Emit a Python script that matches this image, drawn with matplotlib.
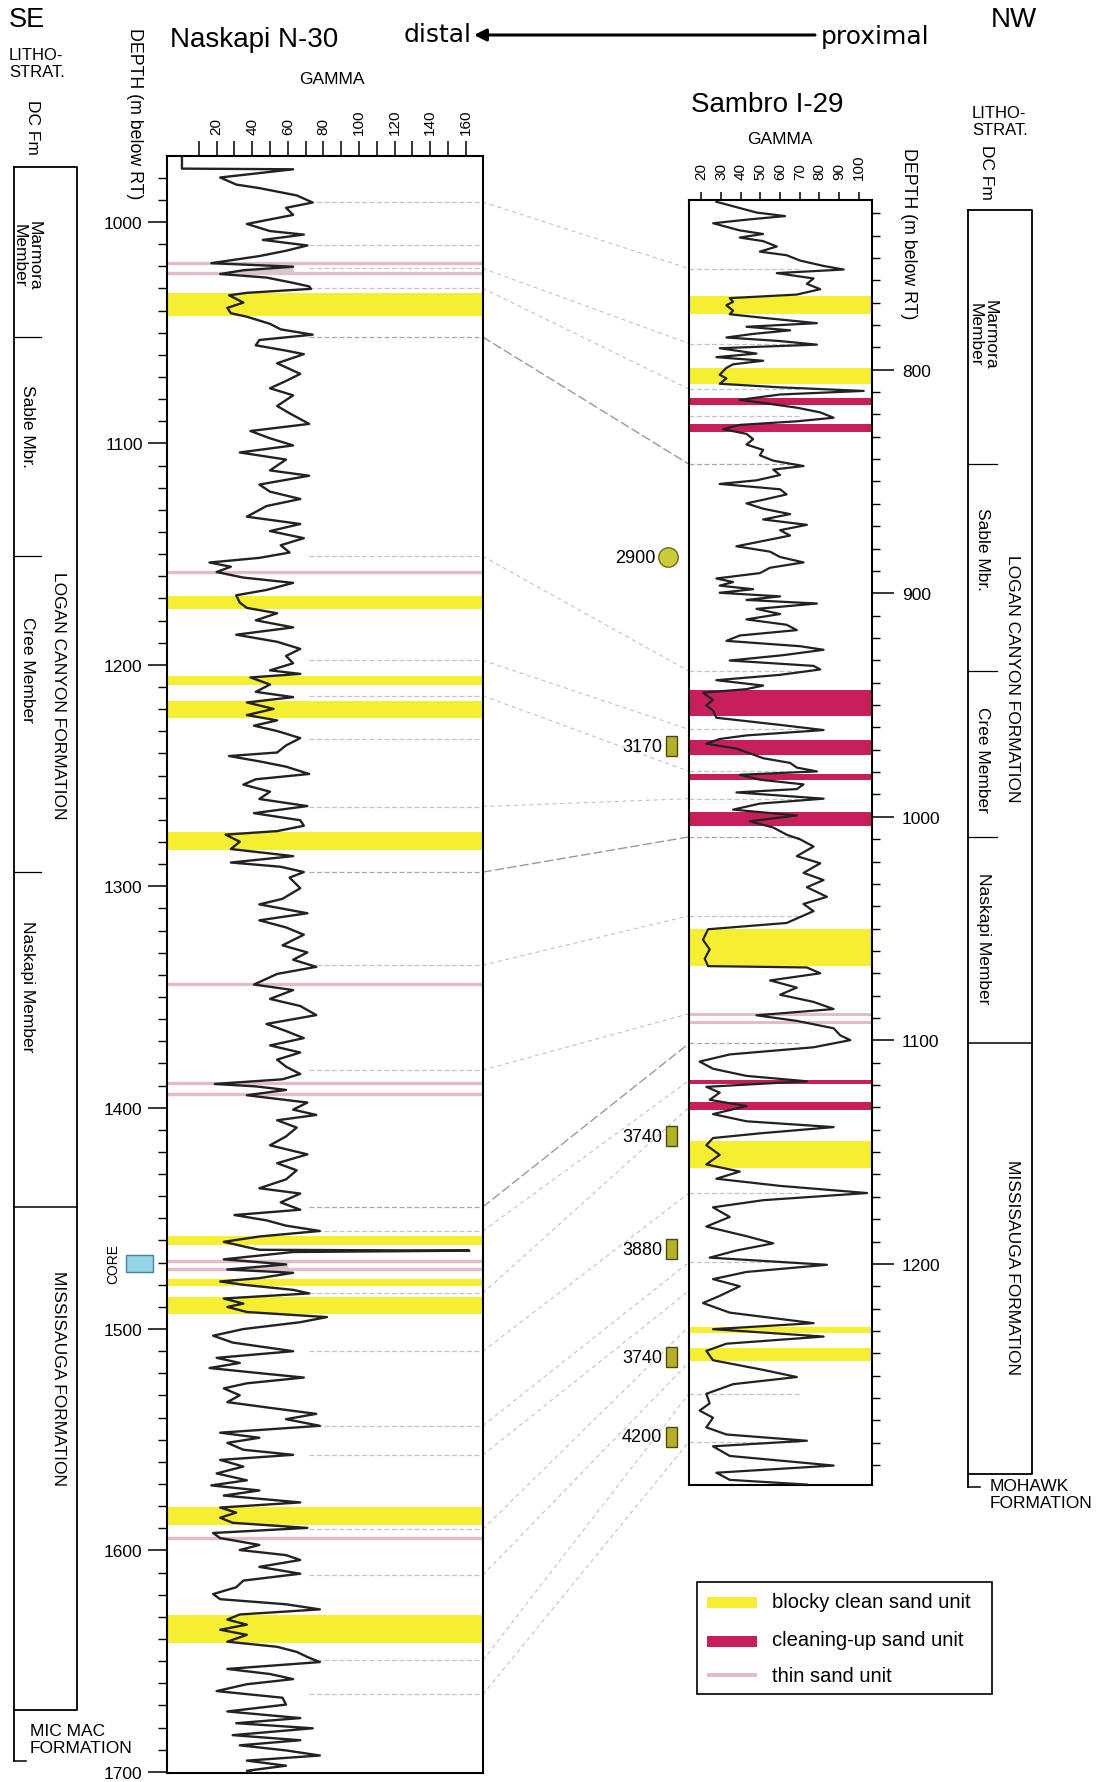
import matplotlib
matplotlib.use("Agg")
import numpy as np
import matplotlib.pyplot as plt
from matplotlib import transforms
from matplotlib.patches import Rectangle, ConnectionPatch
from matplotlib.ticker import MultipleLocator, FixedLocator, FormatStrFormatter

plt.rcParams['font.family'] = ['Liberation Sans', 'DejaVu Sans']

# ---------------- data ----------------
# Naskapi N-30 gamma log (depth m, API)
naskapi_depth = [970.2, 975.9, 976.2, 979.9, 983.1, 984.7, 988.0, 991.2, 993.6, 996.8, 1000.9, 1004.1, 1005.7,
                 1008.1, 1010.6, 1013.0, 1015.4, 1018.6, 1020.2, 1021.8, 1023.5, 1025.1, 1027.5, 1029.1, 1030.2,
                 1032.0, 1033.1, 1036.4, 1038.8, 1041.2, 1042.8, 1046.0, 1048.5, 1050.9, 1053.3, 1055.7, 1058.1,
                 1059.7, 1063.8, 1068.6, 1071.8, 1075.1, 1078.3, 1083.1, 1086.4, 1091.2, 1094.4, 1097.7, 1100.9,
                 1104.1, 1107.3, 1112.2, 1114.6, 1118.6, 1121.8, 1125.1, 1128.3, 1133.1, 1136.4, 1139.6, 1142.8,
                 1146.0, 1149.3, 1151.7, 1153.8, 1155.7, 1158.1, 1160.6, 1163.0, 1166.2, 1168.6, 1171.9, 1174.3,
                 1176.7, 1179.9, 1183.1, 1186.4, 1189.6, 1192.8, 1196.0, 1199.3, 1202.5, 1204.1, 1205.7, 1208.9,
                 1212.2, 1214.6, 1217.0, 1219.9, 1222.7, 1225.1, 1227.5, 1229.9, 1233.1, 1236.4, 1239.6, 1241.2,
                 1243.6, 1246.0, 1249.3, 1251.7, 1254.1, 1257.3, 1260.6, 1263.8, 1267.0, 1270.2, 1272.7, 1275.1,
                 1276.7, 1279.9, 1283.2, 1286.4, 1289.3, 1291.2, 1293.6, 1296.1, 1300.9, 1305.7, 1308.2, 1312.2,
                 1315.4, 1318.6, 1321.9, 1326.7, 1329.9, 1333.2, 1336.4, 1339.6, 1344.4, 1346.9, 1350.9, 1354.1,
                 1358.2, 1362.2, 1365.4, 1368.6, 1371.9, 1375.1, 1378.3, 1381.5, 1384.8, 1387.2, 1389.3, 1390.4,
                 1392.0, 1394.4, 1397.7, 1400.9, 1403.3, 1405.7, 1409.0, 1413.0, 1417.0, 1421.1, 1425.1, 1428.3,
                 1432.4, 1436.4, 1438.8, 1442.8, 1446.1, 1448.5, 1450.9, 1453.3, 1455.7, 1458.2, 1460.6, 1463.0,
                 1464.2, 1464.6, 1465.2, 1468.5, 1470.8, 1473.1, 1474.6, 1477.0, 1478.5, 1480.0, 1482.3, 1483.9,
                 1486.2, 1488.5, 1490.0, 1492.3, 1494.6, 1496.9, 1500.0, 1503.0, 1506.1, 1510.0, 1513.0, 1515.3,
                 1517.6, 1519.9, 1521.9, 1524.5, 1526.8, 1529.9, 1533.0, 1536.0, 1538.3, 1540.7, 1543.7, 1546.8,
                 1549.1, 1551.4, 1554.5, 1556.8, 1559.1, 1562.1, 1565.2, 1568.3, 1570.6, 1572.9, 1575.2, 1578.3,
                 1580.6, 1582.9, 1585.2, 1587.5, 1589.8, 1592.1, 1594.4, 1597.5, 1599.8, 1602.1, 1604.3, 1607.4,
                 1610.5, 1613.6, 1616.6, 1619.7, 1622.0, 1624.3, 1626.6, 1628.9, 1631.2, 1633.5, 1635.8, 1638.1,
                 1641.2, 1643.5, 1645.8, 1648.1, 1650.4, 1653.5, 1655.8, 1658.1, 1660.4, 1663.5, 1666.5, 1669.6,
                 1672.7, 1675.7, 1678.0, 1680.3, 1683.4, 1685.7, 1688.0, 1690.3, 1692.6, 1694.9, 1697.2, 1699.5,
                 1701.8]
naskapi_gamma = [0.5, 0.5, 63, 22, 31, 44, 65, 74, 59, 63, 37, 50, 69,
                 46, 71, 59, 44, 17, 63, 35, 22, 48, 63, 72, 73,
                 37, 27, 35, 26, 28, 37, 50, 56, 74, 44, 42, 59,
                 69, 54, 67, 59, 50, 63, 54, 61, 72, 39, 50, 63,
                 33, 59, 50, 72, 44, 50, 67, 48, 37, 67, 50, 69,
                 56, 61, 44, 16, 28, 20, 35, 63, 48, 31, 33, 37,
                 54, 42, 63, 31, 54, 67, 59, 63, 50, 67, 39, 50,
                 42, 63, 37, 52, 37, 54, 41, 54, 67, 59, 54, 27,
                 44, 59, 72, 42, 35, 50, 44, 71, 41, 67, 69, 54,
                 25, 33, 28, 63, 28, 56, 69, 61, 67, 57, 44, 71,
                 44, 59, 69, 57, 71, 63, 76, 54, 41, 63, 50, 67,
                 76, 48, 59, 69, 50, 67, 54, 59, 67, 57, 19, 42,
                 59, 37, 71, 63, 76, 54, 65, 59, 50, 71, 54, 65,
                 59, 44, 67, 56, 67, 30, 48, 59, 78, 44, 24, 37,
                 44, 162, 63, 24, 59, 26, 63, 44, 22, 35, 63, 72,
                 24, 35, 26, 37, 82, 67, 35, 18, 29, 63, 20, 33,
                 16, 44, 69, 37, 24, 33, 26, 54, 76, 59, 78, 22,
                 44, 26, 35, 63, 22, 35, 20, 37, 17, 44, 24, 67,
                 22, 31, 22, 29, 71, 18, 22, 44, 33, 59, 67, 44,
                 67, 35, 31, 18, 22, 59, 78, 33, 26, 37, 22, 37,
                 26, 54, 65, 71, 78, 26, 50, 63, 37, 20, 57, 59,
                 26, 67, 31, 74, 29, 67, 33, 59, 78, 37, 59, 37,
                 44]

# Sambro I-29 gamma log
sambro_depth = [724.9, 727.3, 729.7, 731.3, 732.9, 734.5, 736.1, 737.7, 739.3, 740.9, 742.5, 744.9, 747.2,
                748.8, 751.2, 753.6, 755.2, 756.8, 759.2, 761.6, 764.0, 766.4, 768.0, 769.6, 771.2, 773.6,
                775.2, 776.8, 779.2, 780.8, 782.4, 784.0, 785.6, 787.2, 788.8, 790.4, 792.8, 794.4, 796.0,
                797.6, 799.2, 800.7, 802.3, 803.9, 806.3, 807.9, 809.5, 811.1, 813.5, 815.1, 817.0, 819.1,
                821.5, 823.1, 824.7, 826.6, 828.7, 831.1, 833.5, 835.9, 838.3, 840.7, 843.1, 844.7, 847.1,
                849.5, 851.1, 853.5, 855.8, 858.2, 859.8, 862.2, 864.6, 867.0, 869.4, 871.8, 874.2, 876.6,
                879.0, 881.4, 883.8, 886.2, 888.6, 891.0, 893.4, 895.0, 896.6, 898.2, 899.8, 901.4, 903.0,
                904.6, 907.0, 909.3, 911.7, 914.1, 916.5, 918.9, 921.3, 923.7, 925.3, 927.7, 930.1, 932.5,
                934.1, 936.5, 938.9, 941.3, 942.9, 944.5, 947.7, 950.1, 952.5, 955.7, 958.9, 961.2, 963.6,
                965.2, 967.3, 969.5, 971.6, 973.8, 975.9, 978.0, 979.7, 981.2, 983.4, 985.5, 987.6, 989.1,
                991.9, 994.1, 996.8, 999.4, 1002.0, 1004.8, 1008.0, 1010.1, 1013.3, 1017.6, 1020.8, 1025.1,
                1028.3, 1031.5, 1035.8, 1039.0, 1042.2, 1047.5, 1050.3, 1055.0, 1059.3, 1063.5, 1066.8,
                1067.4, 1070.0, 1073.2, 1076.4, 1079.6, 1082.8, 1086.0, 1088.8, 1091.3, 1094.6, 1097.8,
                1099.9, 1103.1, 1106.3, 1109.5, 1112.7, 1115.9, 1118.3, 1120.8, 1123.4, 1126.6, 1129.4,
                1133.0, 1136.2, 1138.8, 1141.6, 1143.7, 1146.9, 1151.2, 1155.5, 1158.7, 1161.9, 1165.1,
                1168.3, 1171.5, 1174.7, 1179.0, 1183.3, 1187.6, 1190.8, 1194.0, 1197.2, 1200.4, 1203.6,
                1206.8, 1210.0, 1214.3, 1217.5, 1221.8, 1226.5, 1229.2, 1232.5, 1235.7, 1238.9, 1243.1,
                1247.4, 1250.6, 1253.8, 1258.1, 1262.4, 1265.6, 1268.8, 1273.1, 1276.3, 1279.1, 1281.6,
                1285.9, 1290.2, 1293.4, 1296.6, 1298.7]
sambro_gamma = [27.6, 37.8, 48, 62.5, 43, 26, 32.7, 39.5, 51.4, 39.5, 51.4, 58.3, 49.7,
                63.3, 70.2, 82.1, 92.3, 58.3, 77, 73.6, 80.4, 68.5, 34.4, 36.1, 32.7, 36.1,
                34.4, 51.4, 78.7, 42.9, 65.1, 46.3, 32.7, 60, 78.7, 29.3, 48, 27.6, 51.4,
                36.1, 32.7, 31, 29.3, 32.7, 29.3, 60, 102.5, 60, 39.5, 53.2, 68.5, 80.4,
                87.2, 68.5, 39.5, 31, 42.9, 46.3, 42.9, 51.4, 49.7, 56.5, 71.9, 56.5, 60,
                48, 29.3, 60, 63.3, 51.4, 42.9, 51.4, 65.1, 51.4, 73.6, 60, 65.1, 51.4,
                37.8, 54.9, 60, 71.9, 54.9, 49.7, 27.6, 36.1, 29.3, 46.3, 29.3, 60, 42.9,
                78.7, 48, 60, 42.9, 63.3, 68.5, 39.5, 32.7, 70.2, 82.1, 61.6, 34.4, 77,
                80.4, 60, 27.6, 51.4, 42.9, 20.8, 25.9, 22.5, 25.9, 27.6, 60, 82.1, 42.9,
                29.3, 22.5, 37.8, 44.6, 51.4, 65.1, 68.5, 78.7, 39.5, 49.7, 71.9, 68.5, 37.8,
                82.1, 49.7, 36.1, 68.5, 44.6, 56.5, 63.3, 70.2, 77, 68.5, 80.4, 71.9,
                82.1, 73.6, 83.8, 71.9, 77, 63.3, 23.4, 20.8, 24.2, 21.7, 23.4,
                73.6, 80.4, 54.9, 68.5, 60, 77, 87.2, 48, 68.5, 87.2, 90.6,
                95.7, 77, 34.4, 19.1, 25.9, 42.9, 73.6, 22.5, 29.3, 24.2, 42.9,
                25.9, 42.9, 87.2, 49.7, 25.9, 22.5, 29.3, 22.5, 39.5, 27.6, 60,
                104.2, 51.4, 25.9, 34.4, 22.5, 42.9, 56.5, 37.8, 24.2, 83.8, 42.9,
                25.9, 39.5, 29.3, 20.8, 34.4, 77, 25.9, 82.1, 32.7, 22.5, 25.9,
                51.4, 68.5, 36.1, 22.5, 24.2, 19.1, 25.9, 22.5, 32.7, 73.6, 25.9,
                34.4, 87.2, 27.6, 34.4, 73.6]

# sand units (top, base in m)
naskapi_blocky = [(1032, 1042.5), (1169, 1175), (1205, 1209), (1216.5, 1224), (1275.5, 1283.5),
                  (1458, 1462), (1477.4, 1480.7), (1485.5, 1493), (1580.4, 1588.5), (1629, 1642)]
naskapi_thin = [1018.5, 1023.2, 1158, 1344, 1389, 1394, 1469.3, 1473, 1594.4]
sambro_blocky = [(767.2, 775.2), (799.2, 806.3), (1050.3, 1066.8), (1144.8, 1157.0), (1228.2, 1231), (1237.8, 1243.4)]
sambro_cleanup = [(812.5, 816.0), (824.3, 827.8), (943.5, 955.0), (965.5, 972.3), (980.8, 983.4),
                  (997.8, 1003.9), (1117.6, 1119.6), (1127.5, 1131.3)]
sambro_thin = [1088.1, 1092.0]

# correlation markers
naskapi_markers = [991, 1010.4, 1021, 1030, 1052, 1151, 1198, 1214, 1233.5, 1264, 1293.6, 1335.6, 1383,
                   1444.8, 1455.7, 1483.7, 1510, 1543.6, 1556.8, 1590.3, 1611, 1649.5, 1665]
sambro_markers = [754.8, 788.3, 808.7, 820.7, 842.3, 934.9, 960.9, 979.7, 991.9, 1009, 1044.3, 1101.4,
                  1168.3, 1199.3, 1258, 1279.5]
corr_left = [991, 1021, 1030, 1052, 1151, 1198, 1214, 1264, 1293.6, 1335.6, 1383, 1444.8, 1455.7,
             1483.7, 1510, 1543.6, 1556.8, 1590.3, 1611, 1649.5, 1665]
corr_right = [754.8, 788.3, 808.7, 842.3, 934.9, 960.9, 979.7, 991.9, 1009, 1044.3, 1088.1, 1101.4, 1118,
              1130, 1168.3, 1199.3, 1212, 1228, 1244, 1258, 1279.5]
corr_strong = [1052, 1293.6, 1444.8]

# lithostratigraphy (tops)
naskapi_units = [975, 1052, 1151, 1293.6, 1444.8, 1672]
sambro_units = [728.7, 842.3, 934.9, 1009, 1101.4, 1294]
member_names = ['Marmora\nMember', 'Sable Mbr.', 'Cree Member', 'Naskapi Member']
naskapi_member_pos = [1015, 1092, 1202, 1345]
sambro_member_pos = [784, 880, 974, 1054]
naskapi_fm_pos = [1213.6, 1521.7]
sambro_fm_pos = [937.7, 1201]
fm_names = ['LOGAN CANYON FORMATION', 'MISSISAUGA FORMATION']

# cuttings samples in Sambro I-29
sample_labels = ['2900', '3170', '3740', '3880', '3740', '4200']
sample_depth = [883.9, 968.4, 1142.8, 1193.4, 1241.7, 1277.4]

YEL = '#f6ee30'
MAG = '#c81e5c'
PINK = '#e2bccb'
GREY = '#c4c4c4'
CURVE = '#222222'

W, H = 1115, 1783
fig = plt.figure(figsize=(W / 100, H / 100), dpi=100)


def box(x0, y0, x1, y1):
    return [x0 / W, 1 - y1 / H, (x1 - x0) / W, (y1 - y0) / H]


axL = fig.add_axes(box(167, 157, 483, 1774))
axR = fig.add_axes(box(689, 201, 872, 1486))
ov = fig.add_axes([0, 0, 1, 1])
ov.set_xlim(0, W)
ov.set_ylim(H, 0)
ov.axis('off')

# ---------------- Naskapi N-30 ----------------
axL.set_xlim(-7.9, 169.7)
axL.set_ylim(1700.5, 970.2)
for d0, d1 in naskapi_blocky:
    axL.axhspan(d0, d1, color=YEL, lw=0, zorder=1)
for d in naskapi_thin:
    axL.axhline(d, color=PINK, lw=2.4, zorder=1)
for d in naskapi_markers:
    c = '#a8a8a8' if d in corr_strong else GREY
    axL.plot([72, 169.7], [d, d], color=c, lw=0.9, ls=(0, (4, 2)), zorder=2)
dL = np.array(naskapi_depth)
gL = np.array(naskapi_gamma)
axL.fill_betweenx(dL, gL, 63, where=(dL >= 1018) & (dL <= 1024.5), color='#d8c4cc', lw=0, zorder=2)
axL.fill_betweenx(dL, gL, 60, where=(dL >= 1468) & (dL <= 1474), color='#d8c4cc', lw=0, zorder=2)
axL.plot(gL, dL, color=CURVE, lw=1.7, zorder=3)

axL.xaxis.tick_top()
axL.xaxis.set_major_locator(FixedLocator(range(20, 161, 20)))
axL.xaxis.set_minor_locator(FixedLocator(range(10, 160, 20)))
axL.xaxis.set_major_formatter(FormatStrFormatter('%d'))
axL.tick_params(axis='x', which='both', direction='out', length=10.5, width=1.1,
                labelsize=11, pad=5, labelrotation=90)
axL.yaxis.set_major_locator(MultipleLocator(100))
axL.yaxis.set_minor_locator(MultipleLocator(10))
axL.yaxis.set_major_formatter(FormatStrFormatter('%d'))
axL.tick_params(axis='y', which='major', length=14, width=1.1, labelsize=12.5, pad=3.5)
axL.tick_params(axis='y', which='minor', length=6.5, width=1)
for s in axL.spines.values():
    s.set_linewidth(1.5)

# ---------------- Sambro I-29 ----------------
axR.set_xlim(13.7, 106.7)
axR.set_ylim(1298.9, 724.1)
for d0, d1 in sambro_blocky:
    axR.axhspan(d0, d1, color=YEL, lw=0, zorder=1)
for d0, d1 in sambro_cleanup:
    axR.axhspan(d0, d1, color=MAG, lw=0, zorder=1)
for d in sambro_thin:
    axR.axhline(d, color=PINK, lw=2.2, zorder=1)
for d in sambro_markers:
    c = '#a8a8a8' if d in (842.3, 1009, 1101.4) else GREY
    axR.plot([13.7, 70], [d, d], color=c, lw=0.9, ls=(0, (4, 2)), zorder=2)
axR.plot(sambro_gamma, sambro_depth, color=CURVE, lw=1.6, zorder=3)

axR.xaxis.tick_top()
axR.xaxis.set_major_locator(FixedLocator(range(20, 101, 10)))
axR.xaxis.set_major_formatter(FormatStrFormatter('%d'))
axR.tick_params(axis='x', which='major', direction='out', length=6, width=1.1,
                labelsize=11, pad=9, labelrotation=90)
axR.yaxis.tick_right()
axR.yaxis.set_major_locator(MultipleLocator(100))
axR.yaxis.set_minor_locator(MultipleLocator(10))
axR.yaxis.set_major_formatter(FormatStrFormatter('%d'))
axR.tick_params(axis='y', which='major', length=16, width=1.1, labelsize=12.5, pad=5.5)
axR.tick_params(axis='y', which='minor', length=6, width=1)
for s in axR.spines.values():
    s.set_linewidth(1.5)

# ---------------- correlation lines ----------------
for a, b in zip(corr_left, corr_right):
    strong = a in corr_strong
    con = ConnectionPatch(xyA=(1, a), coordsA=axL.get_yaxis_transform(),
                          xyB=(0, b), coordsB=axR.get_yaxis_transform(),
                          color='#9a9a9a' if strong else '#c2c2c2', lw=1.0 if strong else 0.8,
                          ls=(0, (6, 3)) if strong else (0, (3, 4)), zorder=0)
    fig.add_artist(con)

# ---------------- strat columns ----------------
tL = transforms.blended_transform_factory(ov.transData, axL.transData)
tR = transforms.blended_transform_factory(ov.transData, axR.transData)


def strat_column(tr, x0, x1, xm, tops, bracket_end, member_pos, fm_pos, xmem, xfm):
    top, bot = tops[0], tops[-1]
    ov.plot([x0, x1, x1, x0, x0], [top, top, bot, bot, top], color='black', lw=1.3, transform=tr)
    ov.plot([x0, x0], [bot, bracket_end], color='black', lw=1.3, transform=tr)
    ov.plot([x0, x0 + 12], [bracket_end, bracket_end], color='black', lw=1.1, transform=tr)
    for d in tops[1:4]:
        ov.plot([x0, xm], [d, d], color='black', lw=0.9, transform=tr)
    ov.plot([x0, x1], [tops[4], tops[4]], color='black', lw=1.1, transform=tr)
    for name, d in zip(member_names, member_pos):
        ov.text(xmem, d, name, rotation=270, ha='center', va='center', fontsize=12.5,
                linespacing=1.0, transform=tr)
    for name, d in zip(fm_names, fm_pos):
        ov.text(xfm, d, name, rotation=270, ha='center', va='center', fontsize=12.5, transform=tr)


strat_column(tL, 14, 77, 41, naskapi_units, 1695, naskapi_member_pos, naskapi_fm_pos, 27, 58)
strat_column(tR, 968, 1032, 997, sambro_units, 1299.6, sambro_member_pos, sambro_fm_pos, 983, 1012)

ov.text(30, 1724, 'MIC MAC\nFORMATION', ha='left', va='top', fontsize=12.5, linespacing=1.2)
ov.text(990, 1479, 'MOHAWK\nFORMATION', ha='left', va='top', fontsize=12.5, linespacing=1.2)

# core and samples
ov.add_patch(Rectangle((126, 1466.5), 27, 7.7, transform=tL, fc='#93d4ea', ec='#4d7f95', lw=1))
ov.text(113, 1470.3, 'CORE', rotation=90, ha='center', va='center', fontsize=10, transform=tL)
for i, (lab, d) in enumerate(zip(sample_labels, sample_depth)):
    if i == 0:
        ov.plot([668], [d], 'o', ms=14, mfc='#cccc3a', mec='#6b6b1a', mew=1, transform=tR)
        ov.text(656, d, lab, ha='right', va='center', fontsize=13, transform=tR)
    else:
        ov.add_patch(Rectangle((666, d - 4.6), 11, 9.2, transform=tR, fc='#b2b224', ec='#4a4a10', lw=1))
        ov.text(662, d, lab, ha='right', va='center', fontsize=13, transform=tR)

# ---------------- headings ----------------
ov.text(9, 20, 'SE', fontsize=19.5, ha='left', va='center')
ov.text(1014, 20, 'NW', fontsize=20, ha='center', va='center')
ov.text(9, 64, 'LITHO-\nSTRAT.', fontsize=12, ha='left', va='center', linespacing=1.2)
ov.text(972, 122, 'LITHO-\nSTRAT.', fontsize=12, ha='left', va='center', linespacing=1.2)
ov.text(32, 127, 'DC Fm', rotation=270, fontsize=12.5, ha='center', va='center')
ov.text(987, 172, 'DC Fm', rotation=270, fontsize=12.5, ha='center', va='center')
ov.text(134, 28, 'DEPTH (m below RT)', rotation=270, fontsize=12.8, ha='center', va='top')
ov.text(909, 148, 'DEPTH (m below RT)', rotation=270, fontsize=12.8, ha='center', va='top')
ov.text(170, 40, 'Naskapi N-30', fontsize=20, ha='left', va='center')
ov.text(691, 105, 'Sambro I-29', fontsize=20, ha='left', va='center')
ov.text(332, 79, 'GAMMA', fontsize=12.5, ha='center', va='center')
ov.text(780, 140, 'GAMMA', fontsize=12.5, ha='center', va='center')
ov.text(472, 35, 'distal', fontsize=18, ha='right', va='center', family=['DejaVu Sans'])
ov.text(821, 37, 'proximal', fontsize=18, ha='left', va='center', family=['DejaVu Sans'])
ov.annotate('', xy=(474, 36), xytext=(815, 36),
            arrowprops=dict(arrowstyle='-|>', color='black', lw=2.2, mutation_scale=18,
                            shrinkA=0, shrinkB=0))

# ---------------- legend ----------------
ov.add_patch(Rectangle((697, 1583), 295, 112, fc='white', ec='black', lw=1.2))
ov.add_patch(Rectangle((707, 1598), 50, 11, fc=YEL, ec='none'))
ov.add_patch(Rectangle((707, 1637), 50, 11, fc=MAG, ec='none'))
ov.add_patch(Rectangle((707, 1674), 50, 4, fc=PINK, ec='none'))
ov.text(772, 1603, 'blocky clean sand unit', fontsize=14.5, va='center')
ov.text(772, 1641, 'cleaning-up sand unit', fontsize=14.5, va='center')
ov.text(772, 1677, 'thin sand unit', fontsize=14.5, va='center')

fig.savefig('out.png', dpi=100)
